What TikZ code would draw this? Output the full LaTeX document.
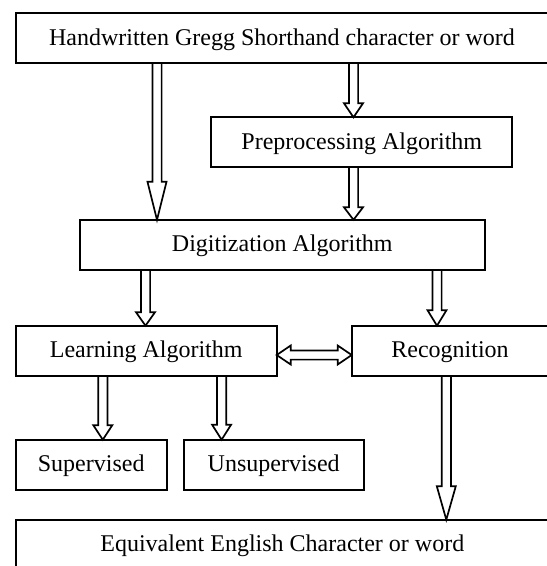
\documentclass[tikz,border=0pt]{standalone}
\usepackage{fontspec}
\setmainfont{Liberation Serif}
\usetikzlibrary{calc}

\tikzset{
  box/.style={draw, line width=1.9pt, minimum height=50pt, inner sep=0pt,
    outer sep=0pt, text height=16pt, text depth=2.4pt,
    font=\fontsize{24pt}{28pt}\selectfont},
  blockarr/.style={draw, line width=1.7pt, line join=miter},
}

% hollow block arrow pointing down: #1 x position, #2 source, #3 target, #4 head length
\newcommand\downblock[4]{%
  \draw[blockarr] let \p1=(#1,0 |- #2.south), \p2=(#1,0 |- #3.north) in
    ({\x1-4.6pt},\y1) -- ({\x1-4.6pt},{\y2+#4pt}) -- ({\x1-9.5pt},{\y2+#4pt})
    -- (\x1,\y2) -- ({\x1+9.5pt},{\y2+#4pt}) -- ({\x1+4.6pt},{\y2+#4pt})
    -- ({\x1+4.6pt},\y1);
}

\begin{document}
\begin{tikzpicture}[x=1pt,y=-1pt]
\clip (0,0) rectangle (547,566);

% boxes
\node[box, minimum width=532.6pt] (top)    at (282,38.3)    {Handwritten Gregg Shorthand character or word};
\node[box, minimum width=301pt]   (prep)   at (361.8,142.3) {Preprocessing Algorithm};
\node[box, minimum width=404.7pt] (digit)  at (282.3,244.8) {Digitization Algorithm};
\node[box, minimum width=261pt]   (learn)  at (146.2,350.7) {Learning Algorithm};
\node[box, minimum width=196.6pt] (recog)  at (450,350.7)   {Recognition};
\node[box, minimum width=151pt]   (sup)    at (91.2,464.7)  {Supervised};
\node[box, minimum width=179.7pt] (unsup)  at (273.7,464.7) {Unsupervised};
\node[box, minimum width=533.3pt] (equiv)  at (282.3,544.7) {Equivalent English Character or word};

% vertical block arrows
\downblock{157}{top}{digit}{38}
\downblock{353.5}{top}{prep}{14}
\downblock{353.5}{prep}{digit}{12.5}
\downblock{145.5}{digit}{learn}{13.5}
\downblock{437}{digit}{recog}{15.5}
\downblock{102.8}{learn}{sup}{14.5}
\downblock{221.6}{learn}{unsup}{15}
\downblock{446.3}{recog}{equiv}{33.5}

% double-headed block arrow between learning and recognition
\draw[blockarr] let \p1=(learn.east |- 0,355), \p2=(recog.west |- 0,355) in
  (\x1,\y1) -- ({\x1+14pt},{\y1+9.5pt}) -- ({\x1+14pt},{\y1+4.6pt})
  -- ({\x2-14pt},{\y1+4.6pt}) -- ({\x2-14pt},{\y1+9.5pt}) -- (\x2,\y1)
  -- ({\x2-14pt},{\y1-9.5pt}) -- ({\x2-14pt},{\y1-4.6pt})
  -- ({\x1+14pt},{\y1-4.6pt}) -- ({\x1+14pt},{\y1-9.5pt}) -- cycle;
\end{tikzpicture}
\end{document}
